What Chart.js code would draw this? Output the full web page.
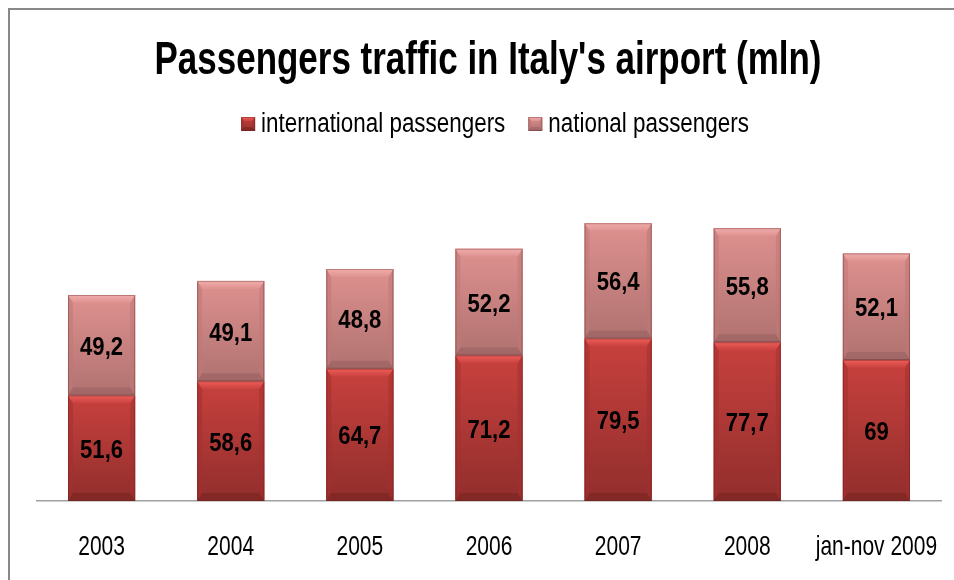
<!DOCTYPE html>
<html>
<head>
<meta charset="utf-8">
<script src="https://cdn.jsdelivr.net/npm/chart.js@4.4.1/dist/chart.umd.min.js"></script>
<style>
  html, body { margin: 0; padding: 0; background: #fff; }
  #wrap { position: relative; width: 954px; height: 580px; }
  #frame { position: absolute; left: 8px; top: 8px; right: 0; bottom: 0;
           border-left: 2px solid #888; border-top: 2px solid #888; pointer-events: none; }
  canvas { position: absolute; left: 0; top: 0; }
</style>
</head>
<body>
<div id="wrap">
  <canvas id="chart" width="954" height="580"></canvas>
  <div id="frame"></div>
</div>
<script>
const categories = ['2003', '2004', '2005', '2006', '2007', '2008', 'jan-nov 2009'];
const international = [51.6, 58.6, 64.7, 71.2, 79.5, 77.7, 69];
const national = [49.2, 49.1, 48.8, 52.2, 56.4, 55.8, 52.1];
const seriesNames = ['international passengers', 'national passengers'];
const chartTitle = "Passengers traffic in Italy's airport (mln)";

const SANS = '"Liberation Sans", Arial, sans-serif';

const palettes = [
  { top: '#c8413e', bottom: '#912e2c', bevelTop: '#ee5d58', bevelSide: '#a23030', bevelBottom: '#7a2422' },
  { top: '#de918f', bottom: '#b07270', bevelTop: '#f0aeac', bevelSide: '#bd7876', bevelBottom: '#976160' }
];

const fmt = v => String(v).replace('.', ',');

// Condensed text: regular face squeezed horizontally
function narrowText(ctx, text, x, y, font, sx, align) {
  ctx.save();
  ctx.font = font;
  ctx.fillStyle = '#000';
  ctx.textBaseline = 'alphabetic';
  ctx.textAlign = align || 'center';
  ctx.translate(x, y);
  ctx.scale(sx, 1);
  ctx.fillText(text, 0, 0);
  ctx.restore();
}
function narrowWidth(ctx, text, font, sx) {
  ctx.save();
  ctx.font = font;
  const w = ctx.measureText(text).width * sx;
  ctx.restore();
  return w;
}

// Beveled block: gradient body plus four edge facets
function drawBevel(ctx, l, t, r, b, pal, e, s) {
  const h = b - t;
  ctx.save();
  const g = ctx.createLinearGradient(0, t, 0, b);
  g.addColorStop(0, pal.top);
  g.addColorStop(1, pal.bottom);
  ctx.fillStyle = g;
  ctx.fillRect(l, t, r - l, h);
  const gt = ctx.createLinearGradient(0, t, 0, t + e);
  gt.addColorStop(0, pal.bevelTop);
  gt.addColorStop(1, pal.top);
  ctx.fillStyle = gt;
  ctx.beginPath();
  ctx.moveTo(l, t); ctx.lineTo(r, t); ctx.lineTo(r - s, t + e); ctx.lineTo(l + s, t + e);
  ctx.closePath(); ctx.fill();
  ctx.fillStyle = pal.bevelSide;
  ctx.globalAlpha = 0.55;
  ctx.beginPath();
  ctx.moveTo(l, t); ctx.lineTo(l + s, t + e); ctx.lineTo(l + s, b - e); ctx.lineTo(l, b);
  ctx.closePath(); ctx.fill();
  ctx.beginPath();
  ctx.moveTo(r, t); ctx.lineTo(r - s, t + e); ctx.lineTo(r - s, b - e); ctx.lineTo(r, b);
  ctx.closePath(); ctx.fill();
  ctx.globalAlpha = 0.6;
  ctx.fillStyle = pal.bevelBottom;
  ctx.beginPath();
  ctx.moveTo(l, b); ctx.lineTo(r, b); ctx.lineTo(r - s, b - e); ctx.lineTo(l + s, b - e);
  ctx.closePath(); ctx.fill();
  ctx.globalAlpha = 1;
  ctx.strokeStyle = 'rgba(90,30,30,0.35)';
  ctx.lineWidth = 1;
  ctx.strokeRect(l + 0.5, t + 0.5, r - l - 1, h - 1);
  ctx.restore();
}

const bevelPlugin = {
  id: 'bevel',
  afterDatasetsDraw(chart) {
    const ctx = chart.ctx;
    chart.data.datasets.forEach((ds, di) => {
      chart.getDatasetMeta(di).data.forEach(bar => {
        const p = bar.getProps(['x', 'y', 'base', 'width'], true);
        const t = Math.min(p.y, p.base), b = Math.max(p.y, p.base);
        drawBevel(ctx, p.x - p.width / 2, t, p.x + p.width / 2, b, palettes[di], Math.min(8, (b - t) / 3), 5);
      });
    });
  }
};

// Title, legend, category labels and segment values
const textPlugin = {
  id: 'narrowTexts',
  afterDraw(chart) {
    const ctx = chart.ctx;
    // title
    narrowText(ctx, chartTitle, 488, 74, 'bold 46px ' + SANS, 0.76, 'center');
    // legend
    const lf = '27px ' + SANS, lsx = 0.83, box = 14, gap = 6, spacing = 23;
    const widths = seriesNames.map(n => narrowWidth(ctx, n, lf, lsx));
    let total = widths.reduce((a, w) => a + box + gap + w, 0) + spacing * (seriesNames.length - 1);
    let x = 495 - total / 2;
    seriesNames.forEach((n, i) => {
      drawBevel(ctx, x, 117, x + box, 117 + box, palettes[i], 4, 3);
      narrowText(ctx, n, x + box + gap, 132, lf, lsx, 'left');
      x += box + gap + widths[i] + spacing;
    });
    // category labels
    const xs = chart.scales.x;
    chart.data.labels.forEach((lab, i) => {
      narrowText(ctx, lab, xs.getPixelForTick(i), 555, '28px ' + SANS, 0.75, 'center');
    });
    // values inside each segment
    chart.data.datasets.forEach((ds, di) => {
      chart.getDatasetMeta(di).data.forEach((bar, i) => {
        const p = bar.getProps(['x', 'y', 'base'], true);
        narrowText(ctx, fmt(ds.data[i]), p.x, (p.y + p.base) / 2 + 9.5, 'bold 26px ' + SANS, 0.85, 'center');
      });
    });
  }
};

new Chart(document.getElementById('chart'), {
  type: 'bar',
  data: {
    labels: categories,
    datasets: [
      { label: seriesNames[0], data: international, backgroundColor: palettes[0].top },
      { label: seriesNames[1], data: national, backgroundColor: palettes[1].top }
    ]
  },
  options: {
    responsive: false,
    animation: false,
    events: [],
    layout: { padding: { left: 37, right: 13, top: 174, bottom: 71 } },
    datasets: { bar: { barPercentage: 0.52, categoryPercentage: 1 } },
    plugins: {
      title: { display: false },
      legend: { display: false },
      tooltip: { enabled: false }
    },
    scales: {
      x: {
        stacked: true,
        grid: { display: false },
        border: { display: true, color: '#a0a0a0', width: 1.5 },
        ticks: { display: false }
      },
      y: {
        stacked: true,
        display: false,
        min: 0,
        max: 160
      }
    }
  },
  plugins: [bevelPlugin, textPlugin]
});
</script>
</body>
</html>
